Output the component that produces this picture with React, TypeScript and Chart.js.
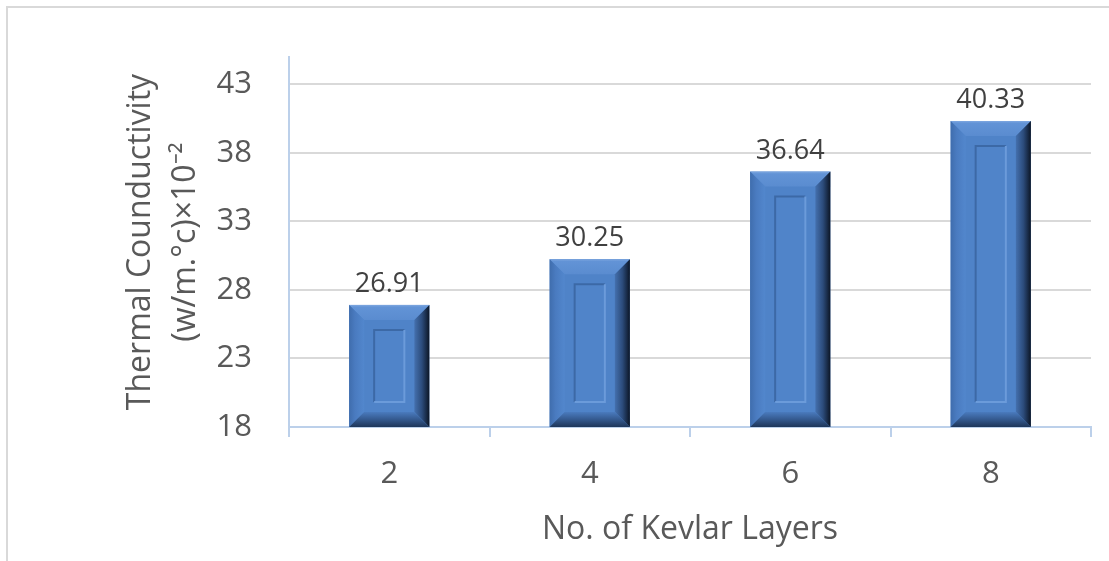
import React, { useEffect, useRef } from "react";
import { Chart, registerables } from "chart.js";

Chart.register(...registerables);

const categories = ["2", "4", "6", "8"];
const conductivity = [26.91, 30.25, 36.64, 40.33];
const yTickValues = [18, 23, 28, 33, 38, 43];
const yTitleLines = ["Thermal Counductivity", "(w/m.°c)×10⁻²"];
const xTitle = "No. of Kevlar Layers";

const FONT = "'Open Sans', sans-serif";
const TEXT = "#595959";

const bevelPlugin = {
  id: "bevelBars",
  afterDatasetsDraw(chart: any) {
    const ctx = chart.ctx;
    const meta = chart.getDatasetMeta(0);
    const area = chart.chartArea;
    meta.data.forEach((el: any) => {
      const { x, y, base, width } = el.getProps(["x", "y", "base", "width"], true);
      const l = x - width / 2;
      const r = x + width / 2;
      const t = Math.max(Math.min(y, base), area.top);
      const b = Math.min(Math.max(y, base), area.bottom);
      const bw = 15;
      ctx.save();
      ctx.fillStyle = "#4F83C8";
      ctx.fillRect(l, t, r - l, b - t);
      // top bevel
      let g = ctx.createLinearGradient(0, t, 0, t + bw);
      g.addColorStop(0, "#7FA8E0");
      g.addColorStop(0.15, "#6293D6");
      g.addColorStop(1, "#5A8CD0");
      ctx.fillStyle = g;
      ctx.beginPath();
      ctx.moveTo(l, t); ctx.lineTo(r, t); ctx.lineTo(r - bw, t + bw); ctx.lineTo(l + bw, t + bw); ctx.closePath();
      ctx.fill();
      // left bevel
      g = ctx.createLinearGradient(l, 0, l + bw, 0);
      g.addColorStop(0, "#3F6DAD");
      g.addColorStop(0.4, "#4A7BC0");
      g.addColorStop(1, "#5287CD");
      ctx.fillStyle = g;
      ctx.beginPath();
      ctx.moveTo(l, t); ctx.lineTo(l + bw, t + bw); ctx.lineTo(l + bw, b - bw); ctx.lineTo(l, b); ctx.closePath();
      ctx.fill();
      // right bevel
      g = ctx.createLinearGradient(r - bw, 0, r, 0);
      g.addColorStop(0, "#4470AE");
      g.addColorStop(0.5, "#2C4C7C");
      g.addColorStop(1, "#0C1626");
      ctx.fillStyle = g;
      ctx.beginPath();
      ctx.moveTo(r, t); ctx.lineTo(r, b); ctx.lineTo(r - bw, b - bw); ctx.lineTo(r - bw, t + bw); ctx.closePath();
      ctx.fill();
      // bottom bevel
      g = ctx.createLinearGradient(0, b - bw, 0, b);
      g.addColorStop(0, "#4A7BBE");
      g.addColorStop(0.5, "#34598E");
      g.addColorStop(1, "#1E3659");
      ctx.fillStyle = g;
      ctx.beginPath();
      ctx.moveTo(l, b); ctx.lineTo(l + bw, b - bw); ctx.lineTo(r - bw, b - bw); ctx.lineTo(r, b); ctx.closePath();
      ctx.fill();
      // inner recessed panel
      const ins = 25;
      const il = l + ins, ir = r - ins, it = t + ins, ib = b - ins;
      if (ib > it + 4) {
        ctx.fillStyle = "#5084C9";
        ctx.fillRect(il, it, ir - il, ib - it);
        ctx.lineWidth = 2;
        ctx.strokeStyle = "#3C69A6";
        ctx.beginPath();
        ctx.moveTo(il, ib); ctx.lineTo(il, it); ctx.lineTo(ir, it);
        ctx.stroke();
        ctx.strokeStyle = "#6B9BDA";
        ctx.beginPath();
        ctx.moveTo(ir, it); ctx.lineTo(ir, ib); ctx.lineTo(il, ib);
        ctx.stroke();
      }
      ctx.restore();
    });
  },
};

const labelPlugin = {
  id: "valueLabels",
  afterDatasetsDraw(chart: any) {
    const ctx = chart.ctx;
    const meta = chart.getDatasetMeta(0);
    ctx.save();
    ctx.font = `27px ${FONT}`;
    ctx.fillStyle = "#404040";
    ctx.textAlign = "center";
    ctx.textBaseline = "alphabetic";
    meta.data.forEach((el: any, i: number) => {
      const { x, y } = el.getProps(["x", "y"], true);
      ctx.fillText(conductivity[i].toFixed(2), x, y - 13);
    });
    ctx.restore();
  },
};

const framePlugin = {
  id: "frame",
  beforeDraw(chart: any) {
    const ctx = chart.ctx;
    ctx.save();
    ctx.fillStyle = "#FFFFFF";
    ctx.fillRect(0, 0, chart.width, chart.height);
    ctx.strokeStyle = "#D9D9D9";
    ctx.lineWidth = 2;
    ctx.strokeRect(7, 7, chart.width + 50, chart.height + 50);
    ctx.restore();
  },
};

export default function App() {
  const ref = useRef<HTMLCanvasElement>(null);
  useEffect(() => {
    document.body.style.margin = "0";
    const chart = new Chart(ref.current!, {
      type: "bar",
      data: {
        labels: categories,
        datasets: [
          {
            data: conductivity,
            backgroundColor: "rgba(0,0,0,0)",
            borderWidth: 0,
            barPercentage: 0.4,
            categoryPercentage: 1,
          },
        ],
      },
      plugins: [framePlugin, bevelPlugin, labelPlugin],
      options: {
        animation: false,
        responsive: false,
        devicePixelRatio: 1,
        layout: { padding: { top: 57, right: 18, left: 0, bottom: 0 } },
        plugins: { legend: { display: false }, tooltip: { enabled: false } },
        scales: {
          x: {
            grid: {
              offset: true,
              drawOnChartArea: false,
              drawTicks: true,
              tickLength: 10,
              color: "#BCD0EA",
              lineWidth: 2,
            },
            border: { color: "#BCD0EA", width: 2 },
            ticks: { color: TEXT, font: { family: FONT, size: 31 }, padding: 19 },
            title: {
              display: true,
              text: xTitle,
              color: TEXT,
              font: { family: FONT, size: 32 },
              padding: { top: 0, bottom: 12 },
            },
            afterFit(scale: any) {
              scale.height = 134;
            },
          },
          y: {
            min: 18,
            max: 45,
            grid: { color: "#D9D9D9", lineWidth: 2, drawTicks: false },
            border: { color: "#BCD0EA", width: 2 },
            ticks: {
              color: TEXT,
              font: { family: FONT, size: 31 },
              padding: 37,
              stepSize: 5,
            },
            afterBuildTicks(scale: any) {
              scale.ticks = yTickValues.map((v) => ({ value: v }));
            },
            title: {
              display: true,
              text: yTitleLines,
              color: TEXT,
              font: { family: FONT, size: 32, lineHeight: "45px" },
              padding: { top: 118, bottom: 0 },
            },
            afterFit(scale: any) {
              scale.width = 289;
            },
          },
        },
      },
    } as any);
    return () => chart.destroy();
  }, []);
  return <canvas ref={ref} width={1109} height={561} style={{ display: "block" }} />;
}
